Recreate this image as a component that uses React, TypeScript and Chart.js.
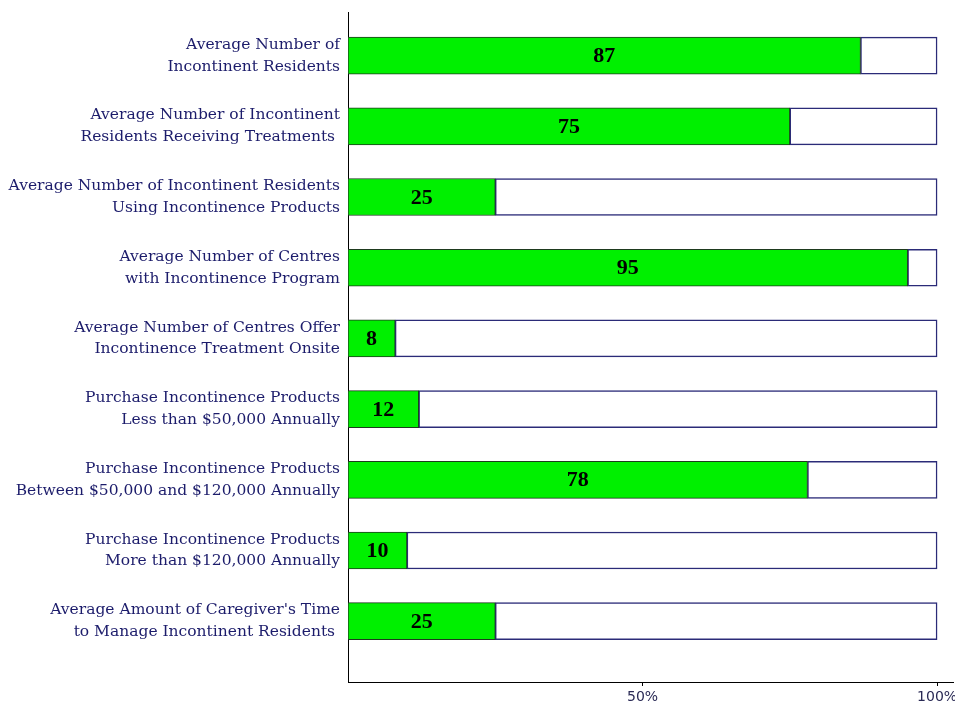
import React, { useEffect, useRef } from "react";
import { Chart, registerables } from "chart.js";

Chart.register(...registerables);

// Survey items, top to bottom
const categories: string[][] = [
  ["Average Number of", "Incontinent Residents"],
  ["Average Number of Incontinent", "Residents Receiving Treatments "],
  ["Average Number of Incontinent Residents", "Using Incontinence Products"],
  ["Average Number of Centres", "with Incontinence Program"],
  ["Average Number of Centres Offer", "Incontinence Treatment Onsite"],
  ["Purchase Incontinence Products", "Less than $50,000 Annually"],
  ["Purchase Incontinence Products", "Between $50,000 and $120,000 Annually"],
  ["Purchase Incontinence Products", "More than $120,000 Annually"],
  ["Average Amount of Caregiver's Time", "to Manage Incontinent Residents "],
];

// Percentage for each item
const values: number[] = [87, 75, 25, 95, 8, 12, 78, 10, 25];

// Remainder up to 100%
const remainders: number[] = values.map((v) => 100 - v);

const xTicks: number[] = [50, 100];

const valueLabels = {
  id: "valueLabels",
  afterDatasetsDraw(chart: any) {
    const { ctx } = chart;
    const meta = chart.getDatasetMeta(0);
    ctx.save();
    ctx.font = "bold 22px 'Liberation Serif', serif";
    ctx.fillStyle = "#000";
    ctx.textAlign = "center";
    ctx.textBaseline = "middle";
    meta.data.forEach((bar: any, i: number) => {
      const cx = (bar.x + bar.base) / 2;
      ctx.fillText(String(values[i]), cx, bar.y + 1);
    });
    ctx.restore();
  },
};

export default function App() {
  const canvasRef = useRef<HTMLCanvasElement>(null);

  useEffect(() => {
    const canvas = canvasRef.current;
    if (!canvas) return;
    const chart = new Chart(canvas, {
      type: "bar",
      data: {
        datasets: [
          {
            data: values.map((v, i) => ({ x: v, y: i })),
            backgroundColor: "#00f000",
            borderColor: "#1e3a1e",
            borderWidth: 1,
            borderSkipped: false,
            barThickness: 37,
          },
          {
            data: remainders.map((v, i) => ({ x: v, y: i })),
            backgroundColor: "#ffffff",
            borderColor: "#2b2b78",
            borderWidth: 1.5,
            borderSkipped: false,
            barThickness: 37,
          },
        ],
      },
      options: {
        indexAxis: "y",
        animation: false,
        responsive: false,
        layout: { padding: { top: 12, right: 2, left: 0, bottom: 0 } },
        plugins: {
          legend: { display: false },
          tooltip: { enabled: false },
        },
        scales: {
          x: {
            type: "linear",
            stacked: true,
            min: 0,
            max: 102.7,
            offset: false,
            afterBuildTicks: (scale: any) => {
              scale.ticks = xTicks.map((v) => ({ value: v }));
            },
            afterFit: (scale: any) => {
              scale.height = 26;
              scale.paddingLeft = 0;
              scale.paddingRight = 0;
            },
            ticks: {
              callback: (v: any) => v + "%",
              font: { family: "'DejaVu Sans', sans-serif", size: 14 },
              color: "#2a2a55",
              padding: 3,
              maxRotation: 0,
            },
            grid: {
              drawOnChartArea: false,
              drawTicks: true,
              tickLength: 4,
              color: "#000",
            },
            border: { display: true, color: "#000", width: 1 },
          },
          y: {
            type: "linear",
            stacked: true,
            reverse: true,
            offset: false,
            min: -0.617,
            max: 8.86,
            afterBuildTicks: (scale: any) => {
              scale.ticks = categories.map((_, i) => ({ value: i }));
            },
            afterFit: (scale: any) => {
              scale.width = 348;
              scale.paddingTop = 0;
              scale.paddingBottom = 0;
            },
            ticks: {
              callback: (v: any) => categories[v],
              font: { family: "'DejaVu Serif', serif", size: 15.5, lineHeight: 1.4 },
              color: "#1c1c6b",
              padding: 8,
              autoSkip: false,
            },
            grid: { display: false, drawTicks: false, offset: false },
            border: { display: true, color: "#000", width: 1 },
          },
        },
      },
      plugins: [valueLabels],
    });
    return () => chart.destroy();
  }, []);

  return (
    <div
      style={{
        position: "absolute",
        left: 0,
        top: 0,
        width: 955,
        height: 708,
        background: "#fff",
      }}
    >
      <canvas ref={canvasRef} width={955} height={708} />
    </div>
  );
}
